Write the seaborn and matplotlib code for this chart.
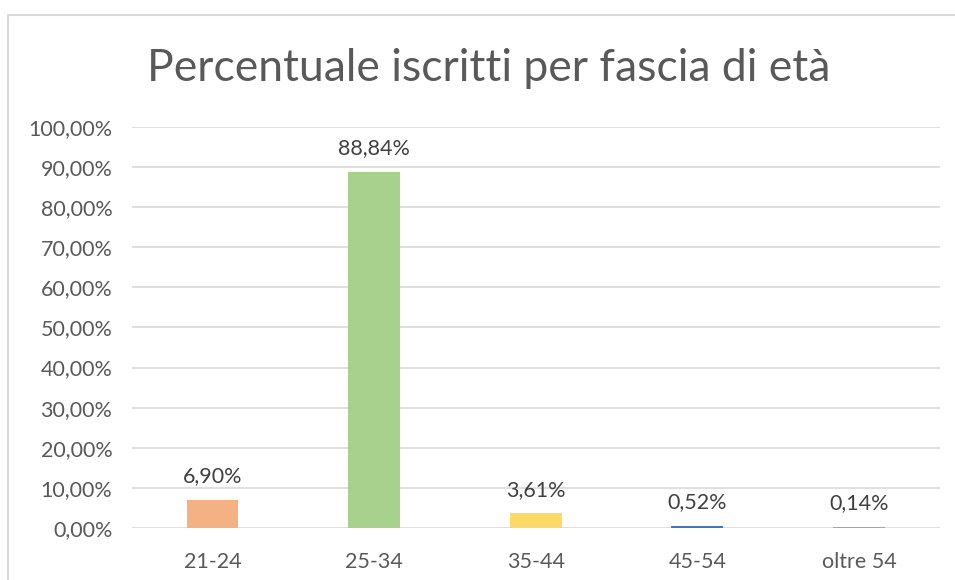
import matplotlib
matplotlib.use("Agg")
import matplotlib.pyplot as plt
import seaborn as sns
import pandas as pd
from matplotlib.ticker import FuncFormatter
from matplotlib.lines import Line2D

fasce = ["21-24", "25-34", "35-44", "45-54", "oltre 54"]
percentuali = [0.0690, 0.8884, 0.0361, 0.0052, 0.0014]
colori = ["#F4B183", "#A9D18E", "#FFD966", "#4472C4", "#A5A5A5"]

df = pd.DataFrame({"Fascia": fasce, "Percentuale": percentuali})

sns.set_style("white")
plt.rcParams["font.family"] = ["Lato", "DejaVu Sans"]

fig = plt.figure(figsize=(9.55, 5.8), dpi=100)
ax = fig.add_axes([0.138, 0.0897, 0.846, 0.6913])

sns.barplot(data=df, x="Fascia", y="Percentuale", hue="Fascia",
            palette=colori, legend=False, width=0.32, ax=ax, saturation=1,
            linewidth=0)

ax.set_ylim(0, 1.0)
ax.set_yticks([i / 10 for i in range(11)])
ax.yaxis.set_major_formatter(FuncFormatter(lambda v, p: f"{v*100:.2f}%".replace(".", ",")))
ax.grid(axis="y", color="#D9D9D9", linewidth=1.2)
ax.set_axisbelow(True)
for s in ax.spines.values():
    s.set_visible(False)
ax.tick_params(axis="both", length=0, labelsize=15.5, colors="#595959")
ax.tick_params(axis="y", pad=14)
ax.tick_params(axis="x", pad=17)
ax.set_xlabel("")
ax.set_ylabel("")

for i, v in enumerate(percentuali):
    ax.annotate(f"{v*100:.2f}%".replace(".", ","), (i, v), xytext=(0, 10),
                textcoords="offset points", ha="center", va="bottom",
                fontsize=15.5, color="#404040")

fig.text(0.512, 0.882, "Percentuale iscritti per fascia di età", ha="center",
         va="center", fontsize=32, color="#595959")

# cornice del grafico
fig.add_artist(Line2D([8 / 955, 8 / 955], [0, 1 - 15 / 580], color="#D9D9D9", lw=1.5))
fig.add_artist(Line2D([8 / 955, 1], [1 - 15 / 580, 1 - 15 / 580], color="#D9D9D9", lw=1.5))

fig.savefig("out.png", dpi=100)
